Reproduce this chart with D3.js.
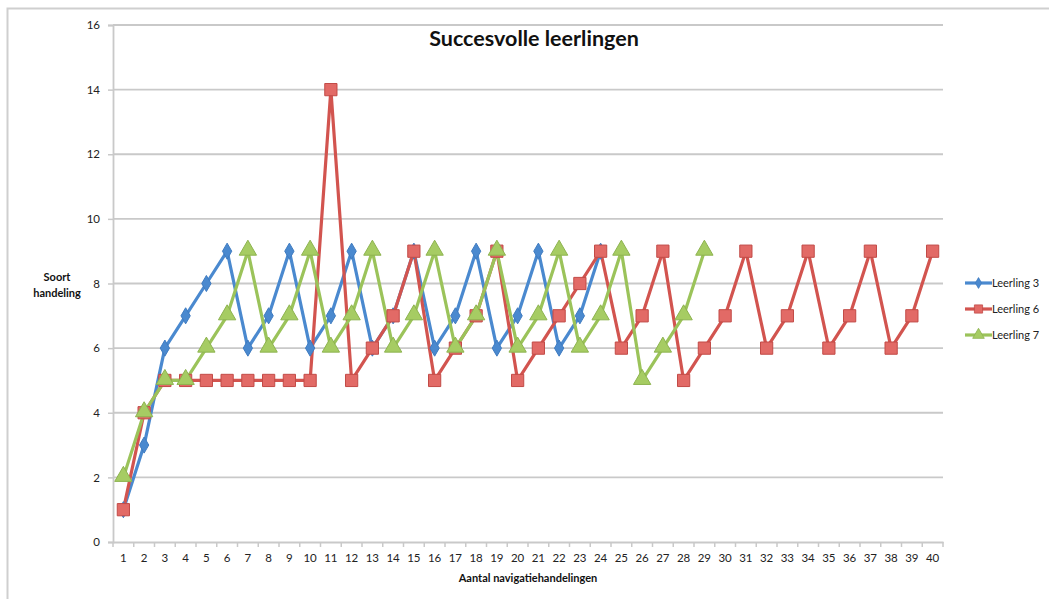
<!DOCTYPE html>
<html>
<head>
<meta charset="utf-8">
<script src="https://cdn.jsdelivr.net/npm/d3@7"></script>
<style>
  html, body { margin: 0; padding: 0; background: #fff; }
  svg { display: block; }
  text { font-family: Lato, "Open Sans", sans-serif; }
</style>
</head>
<body>
<svg id="chart" width="1049" height="599"></svg>
<script>
// Navigation steps 1..40
const steps = d3.range(1, 41);
const yTicks = [0, 2, 4, 6, 8, 10, 12, 14, 16];

// Action type per navigation step, for each student
const leerling3 = [1, 3, 6, 7, 8, 9, 6, 7, 9, 6, 7, 9, 6, 7, 9, 6, 7, 9, 6, 7, 9, 6, 7, 9];
const leerling6 = [1, 4, 5, 5, 5, 5, 5, 5, 5, 5, 14, 5, 6, 7, 9, 5, 6, 7, 9, 5, 6, 7, 8, 9, 6, 7, 9, 5, 6, 7, 9, 6, 7, 9, 6, 7, 9, 6, 7, 9];
const leerling7 = [2, 4, 5, 5, 6, 7, 9, 6, 7, 9, 6, 7, 9, 6, 7, 9, 6, 7, 9, 6, 7, 9, 6, 7, 9, 5, 6, 7, 9];

const seriesNames = ["Leerling 3", "Leerling 6", "Leerling 7"];
const seriesValues = [leerling3, leerling6, leerling7];

const colors = { line: ["#4a89cf", "#d2544f", "#9bc35a"], marker: ["#4a89cf", "#e26a66", "#a6cc63"], stroke: ["#3f7bc0", "#c24b47", "#8db34f"] };
const shapes = [d3.symbolDiamond, d3.symbolSquare, d3.symbolTriangle];

const svg = d3.select("#chart");
const margin = { left: 113, right: 943, top: 25, bottom: 542 };

// outer frame
svg.append("rect").attr("x", 7.5).attr("y", 8.5).attr("width", 1100).attr("height", 700)
  .attr("fill", "none").attr("stroke", "#cfcfcf").attr("stroke-width", 2);

const x = d3.scaleBand().domain(steps).range([margin.left, margin.right]);
const y = d3.scaleLinear().domain([0, 16]).range([margin.bottom, margin.top]);

// horizontal gridlines
svg.append("g").selectAll("line").data(yTicks.filter(d => d > 0)).join("line")
  .attr("x1", margin.left).attr("x2", margin.right)
  .attr("y1", d => y(d)).attr("y2", d => y(d))
  .attr("stroke", "#c9c9c9").attr("stroke-width", 1.8);

// y axis
const yAxis = svg.append("g").attr("transform", `translate(${margin.left},0)`)
  .call(d3.axisLeft(y).tickValues(yTicks).tickSize(5).tickPadding(8));
yAxis.select(".domain").attr("stroke", "#c9c9c9").attr("stroke-width", 1.8);
yAxis.selectAll(".tick line").attr("stroke", "#c9c9c9").attr("stroke-width", 1.5);
yAxis.selectAll(".tick text").attr("font-size", 11.5).attr("fill", "#222");

// x axis
const xAxis = svg.append("g").attr("transform", `translate(0,${margin.bottom})`)
  .call(d3.axisBottom(x).tickSize(0).tickPadding(12));
xAxis.select(".domain").attr("stroke", "#c9c9c9").attr("stroke-width", 1.8);
xAxis.selectAll(".tick text").attr("font-size", 11.5).attr("fill", "#222");
// category separator ticks
svg.append("g").selectAll("line").data(d3.range(0, steps.length + 1)).join("line")
  .attr("x1", i => margin.left + i * x.step()).attr("x2", i => margin.left + i * x.step())
  .attr("y1", margin.bottom).attr("y2", margin.bottom + 5)
  .attr("stroke", "#c9c9c9").attr("stroke-width", 1.5);

const cx = i => x(steps[i]) + x.bandwidth() / 2;

// series lines
const line = d3.line().x((d, i) => cx(i)).y(d => y(d));
seriesValues.forEach((vals, s) => {
  svg.append("path").datum(vals).attr("d", line)
    .attr("fill", "none").attr("stroke", colors.line[s]).attr("stroke-width", 3.2)
    .attr("stroke-linejoin", "round");
});

// markers
const sizes = [75, 150, 130];
seriesValues.forEach((vals, s) => {
  svg.append("g").selectAll("path").data(vals).join("path")
    .attr("transform", (d, i) => `translate(${cx(i)},${y(d) + (s === 2 ? -1 : 0)})`)
    .attr("d", d3.symbol().type(shapes[s]).size(sizes[s]))
    .attr("fill", colors.marker[s]).attr("stroke", colors.stroke[s]).attr("stroke-width", 1);
});

// title
svg.append("text").attr("x", 534).attr("y", 46).attr("text-anchor", "middle")
  .attr("font-size", 21.5).attr("font-weight", "bold").attr("fill", "#111").text("Succesvolle leerlingen");

// axis titles
const yt = svg.append("text").attr("x", 57).attr("text-anchor", "middle")
  .attr("font-size", 11).attr("font-weight", "bold").attr("fill", "#111");
yt.append("tspan").attr("x", 57).attr("y", 281).text("Soort");
yt.append("tspan").attr("x", 57).attr("y", 297).text("handeling");

svg.append("text").attr("x", 528).attr("y", 582).attr("text-anchor", "middle")
  .attr("font-size", 11).attr("font-weight", "bold").attr("fill", "#111").text("Aantal navigatiehandelingen");

// legend
const legend = svg.append("g");
seriesNames.forEach((name, s) => {
  const ly = 283 + s * 26;
  legend.append("line").attr("x1", 965).attr("x2", 992).attr("y1", ly).attr("y2", ly)
    .attr("stroke", colors.line[s]).attr("stroke-width", 3.2);
  legend.append("path").attr("transform", `translate(978.5,${ly})`)
    .attr("d", d3.symbol().type(shapes[s]).size(sizes[s] * 0.45))
    .attr("fill", colors.marker[s]).attr("stroke", colors.stroke[s]).attr("stroke-width", 0.8);
  legend.append("text").attr("x", 992).attr("y", ly + 4).attr("font-size", 11)
    .attr("fill", "#222").text(name);
});
</script>
</body>
</html>
